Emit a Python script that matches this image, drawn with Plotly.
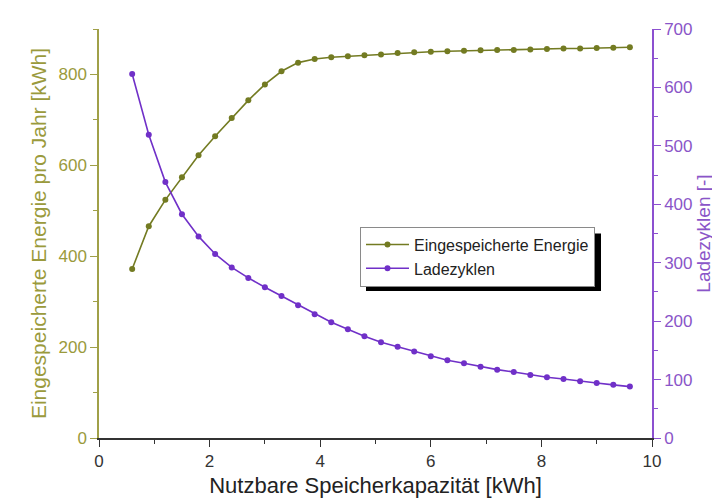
import plotly.graph_objects as go

capacity = [0.6, 0.9, 1.2, 1.5, 1.8, 2.1, 2.4, 2.7, 3.0, 3.3, 3.6, 3.9, 4.2, 4.5, 4.8, 5.1,
            5.4, 5.7, 6.0, 6.3, 6.6, 6.9, 7.2, 7.5, 7.8, 8.1, 8.4, 8.7, 9.0, 9.3, 9.6]
energy = [372, 466, 524, 574, 622, 664, 704, 743, 778, 807, 826, 834, 838, 840, 842, 844,
          847, 849, 850, 851, 852, 853, 854, 854, 855, 856, 857, 857, 858, 859, 860]
cycles = [623, 519, 438, 383, 345, 315, 292, 274, 258, 243, 227, 212, 198, 186, 174, 164,
          156, 148, 140, 133, 128, 122, 117, 113, 108, 104, 101, 97, 94, 91, 88]

olive = "#737b22"
olive_axis = "#a0a048"
olive_text = "#9a9a3c"
purple = "#7030c8"
purple_axis = "#8c50d0"
purple_text = "#8a55c8"
font = "Liberation Sans, Arial, sans-serif"

L, R, T, B = 91, 76, 20, 66
W, H = 720, 498
pw, ph = W - L - R, H - T - B

def px_x(x):
    return (x - L) / pw

def px_y(y):
    return (H - B - y) / ph

fig = go.Figure()
fig.add_trace(go.Scatter(x=capacity, y=energy, name="Eingespeicherte Energie",
                         mode="lines+markers", line=dict(color=olive, width=1.6),
                         marker=dict(color=olive, size=6)))
fig.add_trace(go.Scatter(x=capacity, y=cycles, name="Ladezyklen", yaxis="y2",
                         mode="lines+markers", line=dict(color=purple, width=1.6),
                         marker=dict(color=purple, size=6)))

fig.update_layout(
    width=W, height=H,
    margin=dict(l=L, r=R, t=T, b=B),
    paper_bgcolor="white", plot_bgcolor="white",
    font=dict(family=font, size=16, color="#333333"),
    showlegend=True,
    legend=dict(x=px_x(352), y=px_y(219), xanchor="left", yanchor="top",
                bgcolor="white", bordercolor="#8a8a8a", borderwidth=1,
                font=dict(size=16, color="#222222"), tracegroupgap=0,
                itemwidth=43),
    xaxis=dict(range=[0, 10], dtick=2, ticks="outside", ticklen=7, tickcolor="#333333",
               minor=dict(dtick=1, ticks="outside", ticklen=4, tickcolor="#333333"),
               showline=True, linecolor="#333333", linewidth=1.5, showgrid=False, zeroline=False,
               tickfont=dict(size=17, color="#333333"),
               title=dict(text="Nutzbare Speicherkapazität [kWh]", font=dict(size=22, color="#222222"),
                          standoff=7)),
    yaxis=dict(range=[0, 900], dtick=200, ticks="outside", ticklen=7, tickcolor=olive_axis,
               minor=dict(dtick=100, ticks="outside", ticklen=4, tickcolor=olive_axis),
               showline=True, linecolor=olive_axis, linewidth=1.5, showgrid=False, zeroline=False,
               tickfont=dict(size=17, color=olive_text),
               title=dict(text="Eingespeicherte Energie pro Jahr [kWh]",
                          font=dict(size=21, color=olive_text), standoff=6)),
    yaxis2=dict(range=[0, 700], dtick=100, ticks="outside", ticklen=7, tickcolor=purple_axis,
                minor=dict(dtick=50, ticks="outside", ticklen=4, tickcolor=purple_axis),
                showline=True, linecolor=purple_axis, linewidth=1.5, showgrid=False, zeroline=False,
                overlaying="y", side="right", anchor="x",
                tickfont=dict(size=17, color=purple_text),
                title=dict(text="Ladezyklen [-]", font=dict(size=19, color=purple_text), standoff=0)),
)

# legend drop shadow (offset down-right behind the legend box)
fig.add_shape(type="rect", xref="paper", yref="paper",
              x0=px_x(358), x1=px_x(593), y0=px_y(284), y1=px_y(226),
              fillcolor="black", line=dict(width=0), layer="above")

fig.write_html("out.html")
